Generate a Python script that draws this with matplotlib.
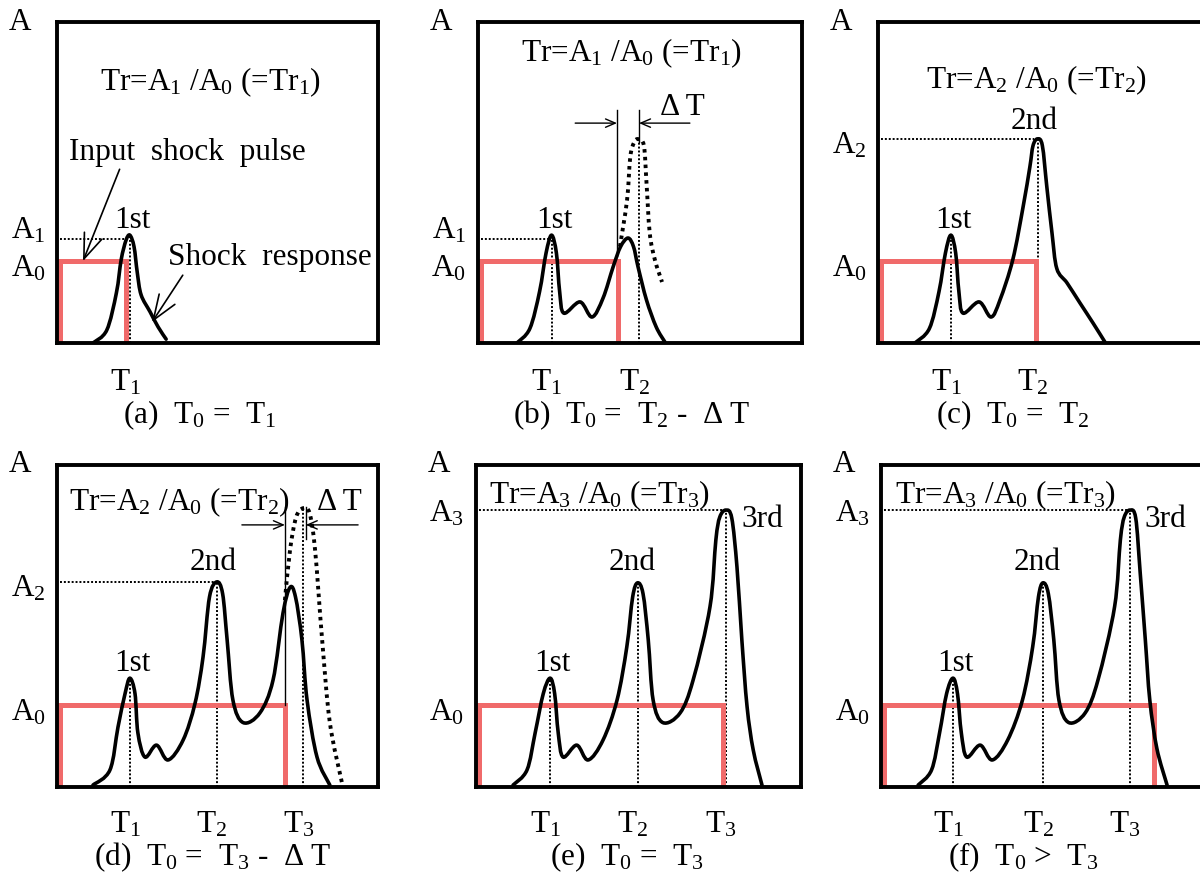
import numpy as np
import matplotlib
matplotlib.use("Agg")
import matplotlib.pyplot as plt
from matplotlib.path import Path
from matplotlib.patches import PathPatch

plt.rcParams["font.family"] = ["Liberation Serif", "DejaVu Serif"]
plt.rcParams["mathtext.fontset"] = "custom"
plt.rcParams["mathtext.rm"] = "Liberation Serif"
plt.rcParams["mathtext.default"] = "regular"

RED = "#f06a6a"
FS = 22.5

# amplitude of the rectangular input pulse (fraction of box height)
A0 = 0.255

# end of input pulse T0 for panels a..f
pulse_end = [0.215, 0.432, 0.492, 0.71, 0.76, 0.853]

# shock response curves (time, amplitude) for each case
resp_a = [(0.112, 0.0), (0.155, 0.04), (0.185, 0.156), (0.200, 0.26), (0.215, 0.32),
          (0.227, 0.336), (0.240, 0.30), (0.250, 0.22), (0.262, 0.15), (0.29, 0.097),
          (0.315, 0.05), (0.34, 0.012)]
resp_b = [(0.12, 0.0), (0.16, 0.045), (0.19, 0.16), (0.21, 0.28), (0.227, 0.336),
          (0.242, 0.28), (0.252, 0.16), (0.265, 0.093), (0.315, 0.128), (0.352, 0.081),
          (0.386, 0.14), (0.417, 0.237), (0.44, 0.30), (0.463, 0.327), (0.48, 0.30),
          (0.494, 0.237), (0.52, 0.134), (0.55, 0.05), (0.577, 0.003)]
resp_c = [(0.115, 0.0), (0.16, 0.045), (0.19, 0.16), (0.21, 0.28), (0.227, 0.336),
          (0.242, 0.28), (0.252, 0.16), (0.265, 0.093), (0.315, 0.128), (0.352, 0.081),
          (0.38, 0.134), (0.42, 0.26), (0.452, 0.424), (0.473, 0.548), (0.483, 0.615),
          (0.497, 0.636), (0.512, 0.615), (0.526, 0.486), (0.542, 0.343), (0.557, 0.232),
          (0.589, 0.187), (0.629, 0.125), (0.67, 0.062), (0.707, 0.003)]
resp_d = [(0.112, 0.006), (0.165, 0.053), (0.19, 0.186), (0.212, 0.29), (0.227, 0.338),
          (0.243, 0.29), (0.252, 0.168), (0.274, 0.093), (0.31, 0.13), (0.346, 0.084),
          (0.393, 0.146), (0.43, 0.26), (0.455, 0.404), (0.475, 0.59), (0.498, 0.637),
          (0.516, 0.60), (0.53, 0.457), (0.548, 0.27), (0.58, 0.2), (0.632, 0.23),
          (0.673, 0.332), (0.704, 0.54), (0.726, 0.62), (0.743, 0.59), (0.763, 0.457),
          (0.779, 0.27), (0.81, 0.093), (0.85, 0.006)]
resp_e = [(0.114, 0.006), (0.157, 0.053), (0.182, 0.168), (0.207, 0.29), (0.228, 0.338),
          (0.242, 0.29), (0.253, 0.168), (0.268, 0.093), (0.31, 0.13), (0.345, 0.084),
          (0.391, 0.146), (0.434, 0.27), (0.464, 0.435), (0.482, 0.59), (0.497, 0.634),
          (0.514, 0.60), (0.53, 0.457), (0.545, 0.27), (0.575, 0.2), (0.628, 0.23),
          (0.668, 0.332), (0.72, 0.56), (0.738, 0.767), (0.75, 0.838), (0.769, 0.86),
          (0.787, 0.835), (0.803, 0.683), (0.818, 0.457), (0.834, 0.25), (0.853, 0.115),
          (0.88, 0.006)]
resp_f = [(0.116, 0.006), (0.158, 0.053), (0.183, 0.168), (0.205, 0.29), (0.225, 0.338),
          (0.239, 0.29), (0.251, 0.168), (0.268, 0.093), (0.31, 0.13), (0.348, 0.084),
          (0.396, 0.146), (0.442, 0.27), (0.474, 0.435), (0.492, 0.59), (0.506, 0.634),
          (0.523, 0.60), (0.54, 0.457), (0.556, 0.27), (0.587, 0.2), (0.638, 0.23),
          (0.678, 0.332), (0.73, 0.56), (0.748, 0.767), (0.76, 0.838), (0.778, 0.86),
          (0.796, 0.835), (0.81, 0.665), (0.826, 0.457), (0.84, 0.27), (0.862, 0.12),
          (0.894, 0.006)]

# response the pulse would have given had it lasted a little longer
ghost_b = [(0.438, 0.30), (0.46, 0.445), (0.47, 0.58), (0.482, 0.625), (0.495, 0.635),
           (0.512, 0.615), (0.52, 0.50), (0.53, 0.343), (0.546, 0.259), (0.568, 0.19)]
ghost_d = [(0.71, 0.58), (0.726, 0.736), (0.745, 0.838), (0.767, 0.866), (0.787, 0.85),
           (0.804, 0.736), (0.826, 0.457), (0.85, 0.2), (0.888, 0.012)]

# peak times and amplitudes (T1, T2, T3) per panel
peaks_a = [(0.227, 0.336)]
peaks_b = [(0.227, 0.336), (0.497, 0.635)]
peaks_c = [(0.227, 0.336), (0.497, 0.636)]
peaks_d = [(0.227, 0.338), (0.498, 0.637), (0.767, 0.866)]
peaks_e = [(0.228, 0.338), (0.497, 0.634), (0.769, 0.86)]
peaks_f = [(0.225, 0.338), (0.506, 0.634), (0.778, 0.86)]

order_names = ["1st", "2nd", "3rd"]
tr_texts = ["Tr=A$_1$ /A$_0$ (=Tr$_1$)", "Tr=A$_1$ /A$_0$ (=Tr$_1$)",
            "Tr=A$_2$ /A$_0$ (=Tr$_2$)", "Tr=A$_2$ /A$_0$ (=Tr$_2$)",
            "Tr=A$_3$ /A$_0$ (=Tr$_3$)", "Tr=A$_3$ /A$_0$ (=Tr$_3$)"]
captions = ["(a)  T$_0$ =  T$_1$", "(b)  T$_0$ =  T$_2$ -  Δ T", "(c)  T$_0$ =  T$_2$",
            "(d)  T$_0$ =  T$_3$ -  Δ T", "(e)  T$_0$ =  T$_3$", "(f)  T$_0$ >  T$_3$"]


def smooth(pts):
    # Catmull-Rom through the points, handed to matplotlib as cubic Bezier segments
    p = np.asarray(pts, dtype=float)
    verts = [p[0]]
    codes = [Path.MOVETO]
    for i in range(len(p) - 1):
        p0 = p[i - 1] if i > 0 else p[i]
        p1, p2 = p[i], p[i + 1]
        p3 = p[i + 2] if i + 2 < len(p) else p[i + 1]
        verts += [p1 + (p2 - p0) / 6, p2 - (p3 - p1) / 6, p2]
        codes += [Path.CURVE4] * 3
    return Path(verts, codes)


fig = plt.figure(figsize=(12, 8.91), dpi=100)
W, H = 1200, 891


def make_ax(l, t, w, h, unit_w):
    ax = fig.add_axes([l / W, 1 - (t + h) / H, w / W, h / H])
    ax.set_xlim(0, w / unit_w)
    ax.set_ylim(0, 1)
    ax.set_xticks([])
    ax.set_yticks([])
    for s in ax.spines.values():
        s.set_linewidth(2.8)
    ax.patch.set_alpha(0)
    return ax


def base(ax, resp, t0, peaks, level, tr_xy, tr_text, t_y):
    ax.text(-0.115, 1.0, "A", ha="center", va="center", fontsize=FS, clip_on=False)
    # input pulse
    ax.plot([0.01, 0.01, t0, t0], [0, A0, A0, 0], color=RED, lw=3.6,
            solid_joinstyle="miter", zorder=2)
    # response
    ax.add_patch(PathPatch(smooth(resp), fill=False, ec="black", lw=2.6,
                           joinstyle="round", capstyle="round", zorder=3))
    # peak times
    for k, (tx, ty) in enumerate(peaks):
        ax.plot([tx, tx], [0, ty], color="black", lw=1.4, ls=(0, (1, 1)), zorder=1)
        ax.text(tx - 0.015, t_y, "T$_%d$" % (k + 1), ha="center", va="center", fontsize=FS)
    # transmissibility level
    lx, ly, lname, dy = level
    ax.plot([0.01, lx - 0.01], [ly, ly], color="black", lw=1.4, ls=(0, (1, 1)), zorder=1)
    ax.text(-0.09, ly + dy, lname, ha="center", va="center", fontsize=FS)
    ax.text(-0.09, A0 - 0.025, "A$_0$", ha="center", va="center", fontsize=FS)
    ax.text(tr_xy[0], tr_xy[1], tr_text, ha="center", va="center", fontsize=FS)


def peak_labels(ax, spots):
    for k, (x, y) in enumerate(spots):
        ax.text(x, y, order_names[k], ha="center", va="center", fontsize=FS)


def delta_t(ax, x0, x1, y_top, y_arrow, arrow_l, arrow_r, txt_xy, y_bot):
    ax.plot([x0, x0], [y_bot, y_top], color="black", lw=1.0)
    ax.plot([x1, x1], [y_top - 0.1, y_top], color="black", lw=1.0)
    sty = dict(arrowstyle="->,head_length=0.7,head_width=0.3", color="black", lw=1.0,
               shrinkA=0, shrinkB=0)
    ax.annotate("", xy=(x0, y_arrow), xytext=(arrow_l, y_arrow), arrowprops=sty)
    ax.annotate("", xy=(x1, y_arrow), xytext=(arrow_r, y_arrow), arrowprops=sty)
    ax.text(txt_xy[0], txt_xy[1], "Δ T", ha="center", va="center", fontsize=FS)


def caption(ax, x, y, txt):
    ax.text(x, y, txt, ha="center", va="center", fontsize=FS)


ghost_style = dict(fill=False, ec="black", lw=2.8, ls=(0, (0.9, 1.1)), zorder=3)
pointer = dict(arrowstyle="->,head_length=0.8,head_width=0.3", color="black",
               lw=1.2, shrinkA=0, shrinkB=0)

# (a)
ax = make_ax(57, 22, 321, 321, 321)
base(ax, resp_a, pulse_end[0], peaks_a, (0.227, 0.324, "A$_1$", 0.025), (0.477, 0.813),
     tr_texts[0], -0.125)
peak_labels(ax, [(0.235, 0.383)])
ax.annotate("Input  shock  pulse", xy=(0.081, A0), xytext=(0.405, 0.595),
            ha="center", va="center", fontsize=FS,
            arrowprops=dict(pointer, relpos=(0.22, 0.0)))
ax.annotate("Shock  response", xy=(0.296, 0.065), xytext=(0.664, 0.265),
            ha="center", va="center", fontsize=FS,
            arrowprops=dict(pointer, relpos=(0.08, 0.0)))
caption(ax, 0.445, -0.224, captions[0])

# (b)
ax = make_ax(478, 22, 324, 321, 324)
base(ax, resp_b, pulse_end[1], peaks_b, (0.227, 0.324, "A$_1$", 0.025), (0.475, 0.903),
     tr_texts[1], -0.125)
ax.add_patch(PathPatch(smooth(ghost_b), **ghost_style))
peak_labels(ax, [(0.235, 0.383)])
delta_t(ax, 0.429, 0.497, 0.726, 0.685, 0.30, 0.654, (0.63, 0.735), 0.27)
caption(ax, 0.475, -0.224, captions[1])

# (c)
ax = make_ax(878, 22, 340, 321, 321)
base(ax, resp_c, pulse_end[2], peaks_c, (0.497, 0.636, "A$_2$", -0.02), (0.495, 0.819),
     tr_texts[2], -0.125)
peak_labels(ax, [(0.235, 0.383), (0.485, 0.69)])
caption(ax, 0.42, -0.224, captions[2])

# (d)
ax = make_ax(57, 465, 321, 322, 321)
base(ax, resp_d, pulse_end[3], peaks_d, (0.498, 0.637, "A$_2$", -0.02), (0.383, 0.885),
     tr_texts[3], -0.118)
ax.add_patch(PathPatch(smooth(ghost_d), **ghost_style))
peak_labels(ax, [(0.235, 0.385), (0.486, 0.696)])
delta_t(ax, 0.71, 0.775, 0.87, 0.814, 0.576, 0.938, (0.88, 0.882), A0)
caption(ax, 0.486, -0.217, captions[3])

# (e)
ax = make_ax(476, 465, 325, 322, 325)
base(ax, resp_e, pulse_end[4], peaks_e, (0.769, 0.86, "A$_3$", -0.01), (0.38, 0.907),
     tr_texts[4], -0.118)
peak_labels(ax, [(0.236, 0.385), (0.48, 0.696), (0.88, 0.83)])
caption(ax, 0.465, -0.217, captions[4])

# (f)
ax = make_ax(881, 465, 340, 322, 320)
base(ax, resp_f, pulse_end[5], peaks_f, (0.778, 0.86, "A$_3$", -0.01), (0.388, 0.907),
     tr_texts[5], -0.118)
peak_labels(ax, [(0.233, 0.385), (0.487, 0.696), (0.888, 0.83)])
caption(ax, 0.444, -0.217, captions[5])

fig.savefig("out.png", dpi=100)
